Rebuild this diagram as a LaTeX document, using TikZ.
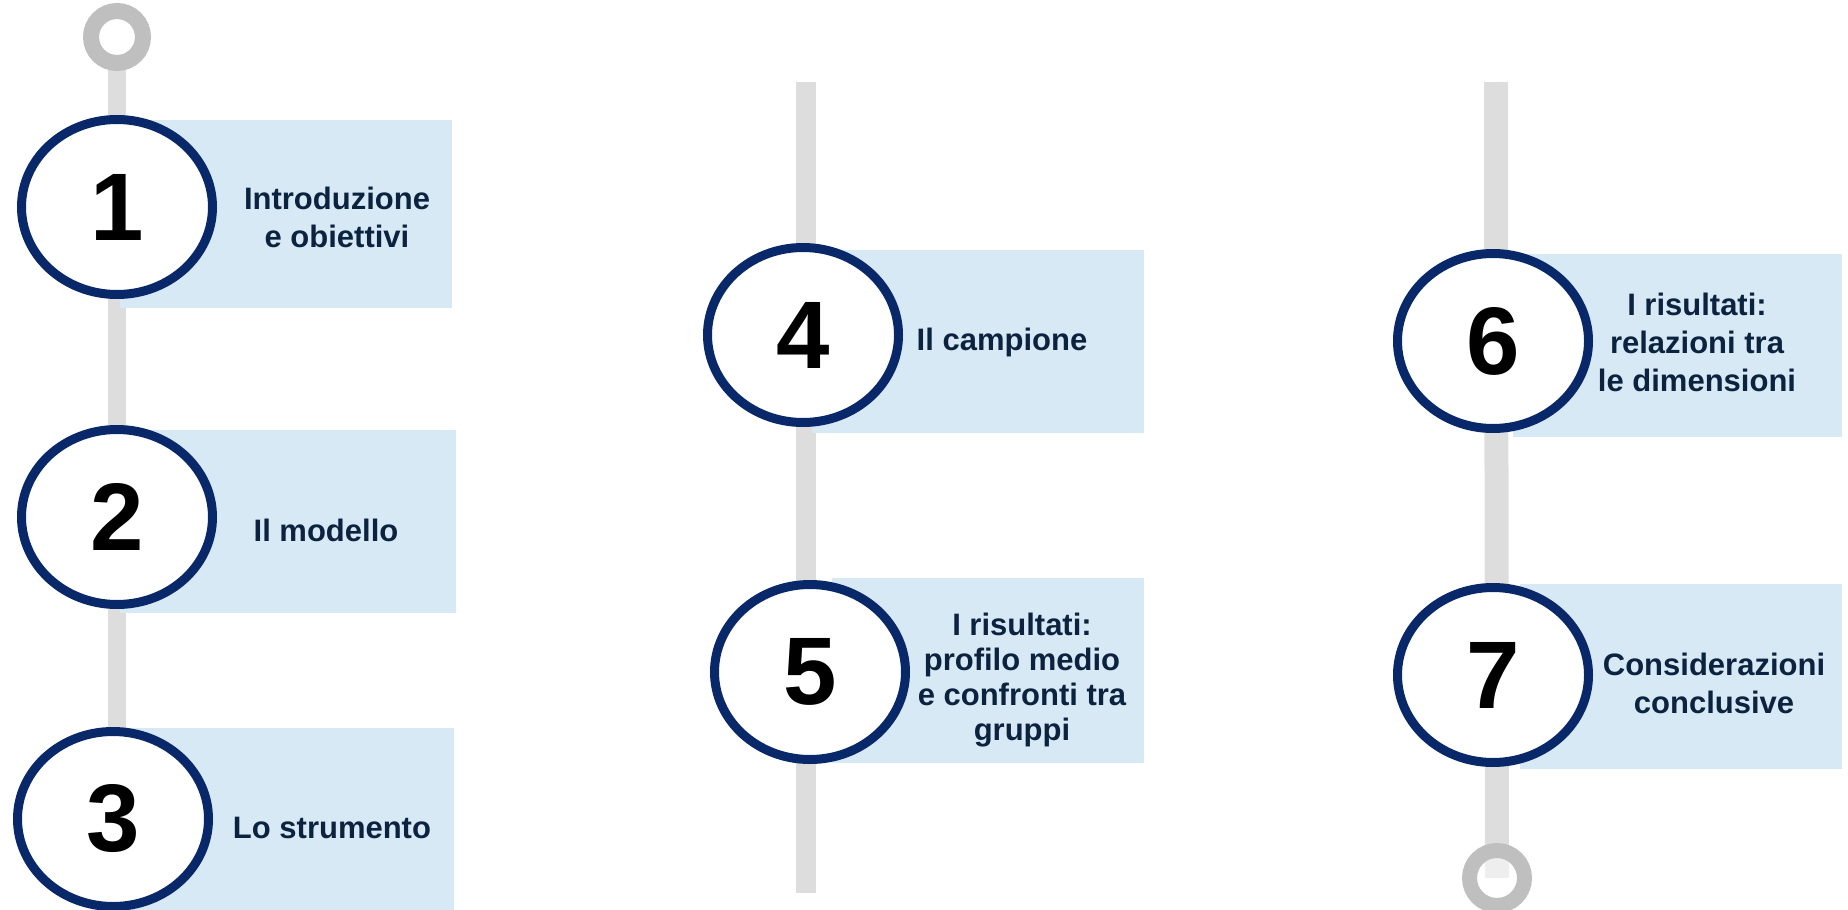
\documentclass[tikz,border=0pt]{standalone}
\usepackage{fontspec}
\setmainfont{Liberation Sans}
\usetikzlibrary{positioning,shapes.geometric,backgrounds}
\definecolor{railgray}{RGB}{221,221,221}
\definecolor{ringgray}{RGB}{191,191,191}
\definecolor{stepnavy}{RGB}{8,40,105}
\definecolor{tabblue}{RGB}{215,233,244}
\definecolor{textnavy}{RGB}{12,35,64}

\begin{document}
\begin{tikzpicture}[x=0.5pt,y=-0.5pt,
    numdisc/.style={ellipse,draw=stepnavy,line width=4.5pt,fill=white,
      minimum width=95.5pt,minimum height=87.5pt,inner sep=0pt,
      font=\fontsize{48}{48}\selectfont\bfseries},
    tab/.style={rectangle,fill=tabblue,inner sep=0pt},
    tabtext/.style={align=center,text=textnavy,inner sep=0pt,
      font=\fontsize{15.5}{19}\selectfont\bfseries},
    ring/.style={circle,draw=ringgray,line width=8pt,fill=white,
      minimum size=26pt,inner sep=0pt},
    rail/.style={draw=railgray}]
  \useasboundingbox (0,0) rectangle (1848,910);

  % tabs behind the numbers
  \node[tab,minimum width=166pt,minimum height=94pt]   (tab1) at (286,214)    {};
  \node[tab,minimum width=168pt,minimum height=91.5pt] (tab2) at (288,521.5)  {};
  \node[tab,minimum width=167pt,minimum height=91pt]   (tab3) at (287,819)    {};
  \node[tab,minimum width=166pt,minimum height=91.5pt] (tab4) at (978,341.5)  {};
  \node[tab,minimum width=156pt,minimum height=92.5pt] (tab5) at (988,670.5)  {};
  \node[tab,minimum width=164.5pt,minimum height=91.5pt] (tab6) at (1677.5,345.5) {};
  \node[tab,minimum width=161pt,minimum height=92.5pt] (tab7) at (1681,676.5) {};

  % numbered steps
  \node[numdisc] (step1) at (117,207) {1};
  \node[numdisc] (step2) at (117,517) {2};
  \node[numdisc] (step3) at (113,819) {3};
  \node[numdisc] (step4) at (803,335) {4};
  \node[numdisc] (step5) at (810,672) {5};
  \node[numdisc] (step6) at (1493,341) {6};
  \node[numdisc] (step7) at (1493,675) {7};

  % step titles
  \node[tabtext] (title1) at (337,217)  {Introduzione\\e obiettivi};
  \node[tabtext] (title2) at (326,530)  {Il modello};
  \node[tabtext] (title3) at (332,828)  {Lo strumento};
  \node[tabtext] (title4) at (1002,342) {Il campione};
  \node[tabtext,font=\fontsize{15.5}{17.5}\selectfont\bfseries] (title5) at (1022,680)
    {I risultati:\\profilo medio\\e confronti tra\\gruppi};
  \node[tabtext] (title6) at (1697,342) {I risultati:\\relazioni tra\\le dimensioni};
  \node[tabtext] (title7) at (1714,683) {Considerazioni\\conclusive};

  % start and end rings
  \node[ring] (ringtop) at (117,37) {};
  \node[ring,minimum size=27.5pt,line width=7.5pt,fill opacity=0.5,draw opacity=1] (ringend) at (1497,878) {};

  % rails
  \coordinate (rail1end) at (117,910);
  \coordinate (rail2top) at (806,82);
  \coordinate (rail2end) at (806,893);
  \coordinate (rail3top) at (1496,82);
  \begin{scope}[on background layer]
    \draw[rail,line width=9pt]  (ringtop.center) -- (rail1end);
    \draw[rail,line width=10pt] (rail2top) -- (rail2end);
    \draw[rail,line width=12pt] (rail3top) -- (ringend.center);
  \end{scope}
\end{tikzpicture}
\end{document}
